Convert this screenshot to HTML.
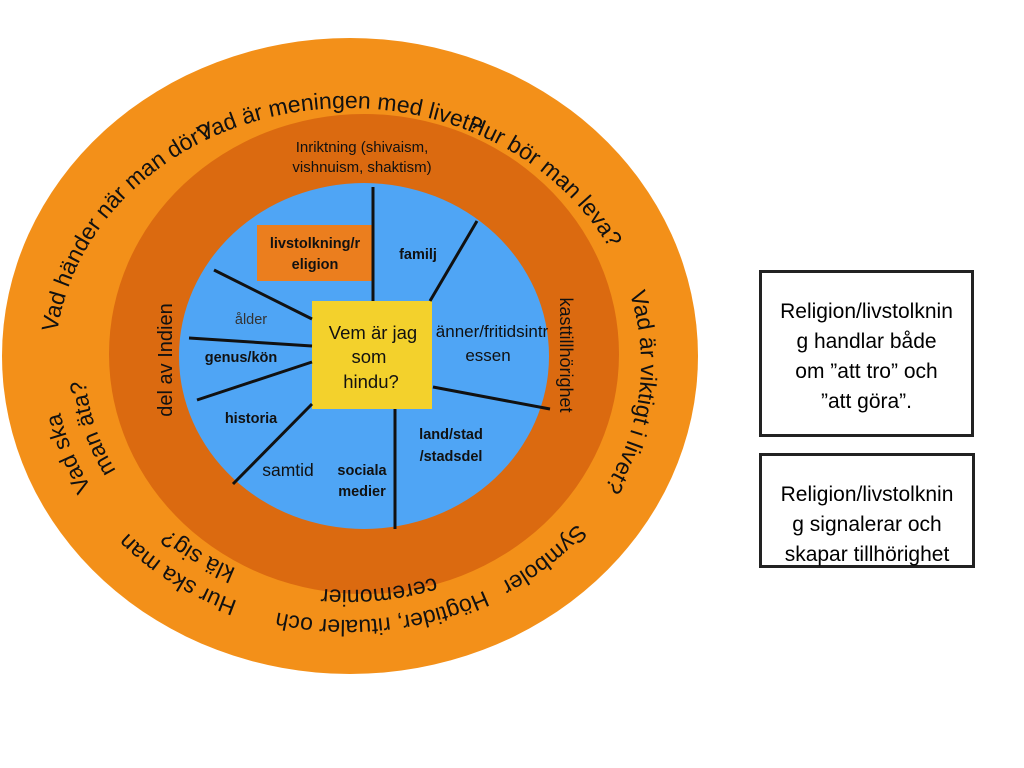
<!DOCTYPE html>
<html><head><meta charset="utf-8"><style>
body{margin:0;width:1024px;height:768px;background:#fff;overflow:hidden;font-family:"Liberation Sans",sans-serif}
.box{position:absolute;background:#fff;border:3px solid #222;box-sizing:border-box;text-align:center;font-size:21px;line-height:30px;color:#000}
</style></head><body>
<svg width="1024" height="768" style="position:absolute;left:0;top:0" font-family="Liberation Sans, sans-serif">
<defs>
<path id="p1" d="M55,364 A293 256 0 0 1 641,364 A293 256 0 0 1 55,364"/>
<path id="p2" d="M85,364 A263 226 0 0 1 611,364 A263 226 0 0 1 85,364"/>
</defs>
<ellipse cx="350" cy="356" rx="348" ry="318" fill="#F39019"/>
<ellipse cx="364" cy="354" rx="255" ry="240" fill="#DB6A10"/>
<ellipse cx="364" cy="356" rx="185" ry="173" fill="#4FA5F5"/>
<rect x="257" y="225" width="116" height="56" fill="#EB7E1E"/>
<rect x="312" y="301" width="120" height="108" fill="#F3D12C"/>
<g stroke="#111" stroke-width="3">
<line x1="373" y1="187" x2="373" y2="301"/>
<line x1="477" y1="221" x2="430" y2="301"/>
<line x1="214" y1="270" x2="312" y2="319"/>
<line x1="189" y1="338" x2="312" y2="346"/>
<line x1="197" y1="400" x2="312" y2="362"/>
<line x1="233" y1="484" x2="312" y2="404"/>
<line x1="395" y1="409" x2="395" y2="529"/>
<line x1="433" y1="387" x2="550" y2="409"/>
</g>
<g font-size="14.5" font-weight="bold" fill="#111" text-anchor="middle">
<text x="362" y="152" font-weight="normal" font-size="15">Inriktning (shivaism,</text>
<text x="362" y="172" font-weight="normal" font-size="15">vishnuism, shaktism)</text>
<text x="315" y="248">livstolkning/r</text>
<text x="315" y="269">eligion</text>
<text x="418" y="259">familj</text>
<text x="251" y="324" font-weight="normal" fill="#333">ålder</text>
<text x="241" y="362">genus/kön</text>
<text x="251" y="423">historia</text>
<text x="288" y="476" font-weight="normal" font-size="17.5">samtid</text>
<text x="362" y="475">sociala</text>
<text x="362" y="496">medier</text>
<text x="451" y="439">land/stad</text>
<text x="451" y="461">/stadsdel</text>
<text x="492" y="337" font-weight="normal" font-size="17">änner/fritidsintr</text>
<text x="488" y="361" font-weight="normal" font-size="17">essen</text>
<text x="373" y="339" font-weight="normal" font-size="18.5">Vem är jag</text>
<text x="369" y="363" font-weight="normal" font-size="18.5">som</text>
<text x="371" y="388" font-weight="normal" font-size="18.5">hindu?</text>
</g>
<text transform="translate(172,360) rotate(-90)" text-anchor="middle" font-size="20" fill="#111">del av Indien</text>
<text transform="translate(560,355) rotate(90)" text-anchor="middle" font-size="18" fill="#111">kasttillhörighet</text>
<g font-size="23" fill="#111">
<text><textPath href="#p1" startOffset="24.5%" text-anchor="middle">Vad är meningen med livet?</textPath></text>
<text><textPath href="#p1" startOffset="37.5%" text-anchor="middle">Hur bör man leva?</textPath></text>
<text><textPath href="#p1" startOffset="51.7%" text-anchor="middle">Vad är viktigt i livet?</textPath></text>
<text><textPath href="#p1" startOffset="63%" text-anchor="middle">Symboler</textPath></text>
<text><textPath href="#p1" startOffset="73%" text-anchor="middle">Högtider, ritualer och</textPath></text>
<text><textPath href="#p2" startOffset="73%" text-anchor="middle">ceremonier</textPath></text>
<text><textPath href="#p1" startOffset="85.3%" text-anchor="middle">Hur ska man</textPath></text>
<text><textPath href="#p2" startOffset="85%" text-anchor="middle">klä sig?</textPath></text>
<text><textPath href="#p1" startOffset="94.8%" text-anchor="middle">Vad ska</textPath></text>
<text><textPath href="#p2" startOffset="95.8%" text-anchor="middle">man äta?</textPath></text>
<text><textPath href="#p1" startOffset="9.4%" text-anchor="middle">Vad händer när man dör?</textPath></text>
</g>
</svg>
<div class="box" style="left:759px;top:270px;width:215px;height:167px;padding-top:24px">Religion/livstolknin<br>g handlar både<br>om ”att tro” och<br>”att göra”.</div>
<div class="box" style="left:759px;top:453px;width:216px;height:115px;padding-top:24px">Religion/livstolknin<br>g signalerar och<br>skapar tillhörighet</div>
</body></html>
